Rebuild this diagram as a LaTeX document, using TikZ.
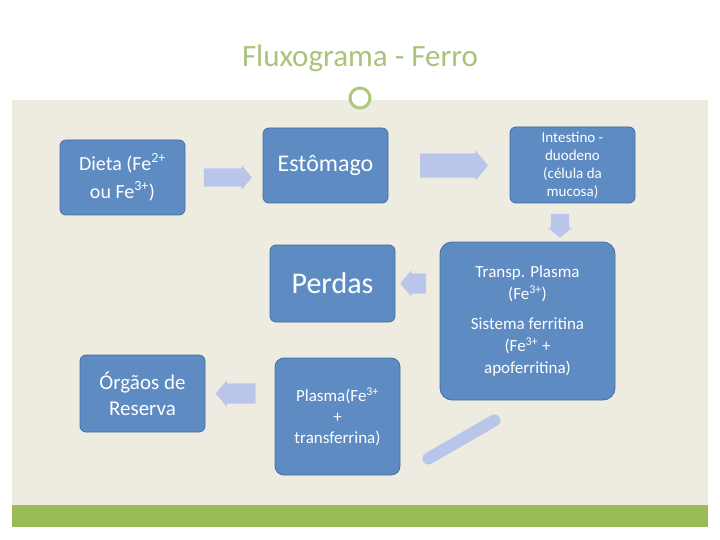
\documentclass[tikz,border=0pt]{standalone}
\usepackage{fontspec}
\setmainfont{Carlito}
\usetikzlibrary{shapes.arrows,calc}
\definecolor{beige}{HTML}{EEECE1}
\definecolor{boxblue}{HTML}{4F81BD}
\definecolor{arrblue}{HTML}{B9C6EA}
\definecolor{olive}{HTML}{9BBB59}
\definecolor{titlegreen}{HTML}{A9C47A}
\tikzset{
  box/.style={draw=boxblue!85!black, line width=0.8pt, fill=boxblue!92!white, rounded corners=6pt, text=white, align=center, inner sep=2pt},
  barrow/.style={single arrow, fill=arrblue, draw=none, single arrow head extend=3pt, single arrow tip angle=100, inner xsep=0pt, minimum height=#1},
}
\begin{document}
\begin{tikzpicture}[x=1pt,y=-1pt]
\useasboundingbox (0,0) rectangle (720,540);
\fill[white] (0,0) rectangle (720,540);
\fill[beige] (12,100) rectangle (708,505);
\fill[olive] (12,505) rectangle (708,527);
\node[text=titlegreen, font=\fontsize{31}{36}\selectfont] (title) at (360,58) {Fluxograma - Ferro};
\draw[olive!80!white, line width=3pt, fill=white] (360,98) circle (10);
\node[box, minimum width=125pt, minimum height=75pt, font=\fontsize{20}{28}\selectfont] (dieta) at (122.5,177.5) {Dieta (Fe\textsuperscript{2+}\\ ou Fe\textsuperscript{3+})};
\node[box, minimum width=125pt, minimum height=75pt, font=\fontsize{24}{28}\selectfont] (est) at (325.5,165.5) {Estômago};
\node[box, minimum width=125pt, minimum height=76pt, font=\fontsize{15}{18}\selectfont] (int) at (572.5,165) {Intestino -\\ duodeno\\ (célula da\\ mucosa)};
\node[box, minimum width=125pt, minimum height=77pt, font=\fontsize{30}{34}\selectfont] (perdas) at (332.5,283.5) {Perdas};
\node[box, minimum width=175pt, minimum height=158pt, rounded corners=12pt, font=\fontsize{17}{22}\selectfont] (transp) at (527.5,321) {Transp. Plasma\\ (Fe\textsuperscript{3+})\\[8pt] Sistema ferritina\\ (Fe\textsuperscript{3+} +\\ apoferritina)};
\node[box, minimum width=125pt, minimum height=77pt, font=\fontsize{21}{26}\selectfont] (org) at (142.5,393.5) {Órgãos de\\ Reserva};
\node[box, minimum width=125pt, minimum height=117pt, rounded corners=9pt, font=\fontsize{17}{21}\selectfont] (plasma) at (337.5,416.5) {Plasma(Fe\textsuperscript{3+}\\ +\\ transferrina)};
% block arrows
\node[barrow=48pt, inner ysep=9pt] (a1) at ($(dieta.east)!0.5!(est.west|-dieta.east)$) {};
\node[barrow=68pt, inner ysep=12pt] (a2) at ($(est.east)!0.5!(int.west|-est.east)$) {};
\node[barrow=24pt, inner xsep=9pt, inner ysep=0pt, shape border rotate=270] (a3) at (560,222) {};
\node[barrow=26pt, inner ysep=10pt, shape border rotate=180] (a4) at ($(transp.west|-perdas.east)!0.5!(perdas.east)$) {};
\node[barrow=40pt, inner ysep=10pt, shape border rotate=180] (a5) at ($(org.east)!0.5!(plasma.west|-org.east)$) {};
\coordinate (d1) at ($(transp.south)+(-33,20)$);
\coordinate (d2) at ($(plasma.east)+(28,42)$);
\draw[arrblue, line width=12pt, line cap=round] (d1) -- (d2);
\end{tikzpicture}
\end{document}
